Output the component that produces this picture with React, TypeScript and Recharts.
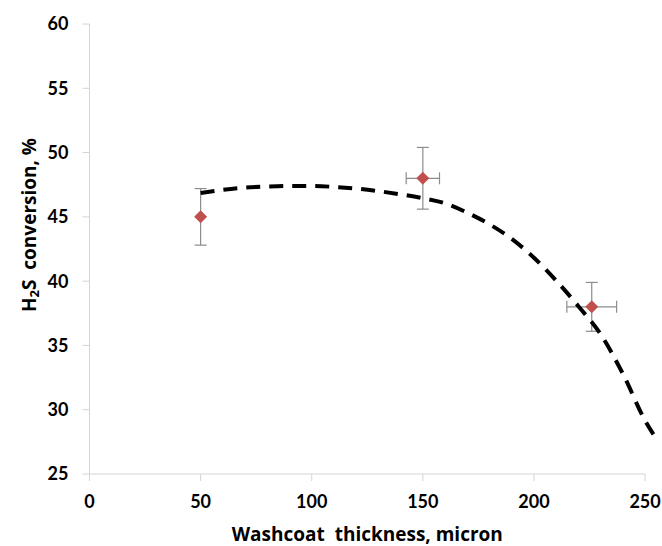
import React from 'react';
import {
  ComposedChart, Line, Scatter, ErrorBar, XAxis, YAxis, ReferenceLine,
} from 'recharts';

// ── Data ─────────────────────────────────────────────────────────────────────

const xTicks = [0, 50, 100, 150, 200, 250];
const yTicks = [25, 30, 35, 40, 45, 50, 55, 60];

// measured points with error bars
const pointX = [50, 150, 226];
const pointY = [45, 48, 38];
const pointErrX = [0, 7.5, 11.2];
const pointErrY = [2.2, 2.4, 1.9];

// fitted curve (dashed)
const curveX = [50, 60, 70, 80, 90, 100, 110, 120, 130, 140, 150, 160, 170, 180, 190, 200, 210, 220, 230, 240, 250, 254.5];
const curveY = [46.85, 47.1, 47.28, 47.36, 47.4, 47.4, 47.33, 47.2, 47.0, 46.75, 46.45, 46.05, 45.32, 44.42, 43.29, 41.82, 40.04, 38.05, 35.87, 32.8, 29.16, 27.88];

const points = pointX.map((x, i) => ({ x, y: pointY[i], ex: pointErrX[i], ey: pointErrY[i] }));
const curve = curveX.map((x, i) => ({ x, y: curveY[i] }));

// ── Styles ───────────────────────────────────────────────────────────────────

const FONT = 'Lato, "Open Sans", sans-serif';
const TITLE_FONT = '"Open Sans", Lato, sans-serif';
const AXIS = '#d4d4d4';
const RED = '#c0504d';
const tickStyle = { fill: '#000', fontSize: 18, fontWeight: 700, fontFamily: FONT };

const Diamond = ({ cx, cy }: any) => {
  const r = 6.5;
  return <polygon points={`${cx},${cy - r} ${cx + r},${cy} ${cx},${cy + r} ${cx - r},${cy}`} fill={RED} />;
};

const YTitle = ({ viewBox }: any) => {
  const cx = 29;
  const cy = viewBox.y + viewBox.height / 2 - 24;
  return (
    <text
      x={cx} y={cy} transform={`rotate(-90 ${cx} ${cy})`} textAnchor="middle" dominantBaseline="central"
      fontFamily={TITLE_FONT} fontSize={19} fontWeight={700} fill="#000" style={{ whiteSpace: 'pre' }}
    >
      <tspan>H</tspan>
      <tspan fontSize={13} dy={5}>2</tspan>
      <tspan dy={-5}>S  conversion, %</tspan>
    </text>
  );
};

const XTitle = ({ viewBox }: any) => {
  const x = viewBox.x + (250 / 256) * viewBox.width / 2;
  return (
    <text
      x={x} y={541} textAnchor="middle"
      fontFamily={TITLE_FONT} fontSize={19} fontWeight={700} fill="#000" style={{ whiteSpace: 'pre' }}
    >
      Washcoat  thickness, micron
    </text>
  );
};

export default function App() {
  return (
    <div style={{ position: 'absolute', left: 0, top: 0, background: '#fff' }}>
      <ComposedChart width={662} height={546} margin={{ top: 24, right: 3.6, bottom: 0, left: 19.5 }}>
        <XAxis
          type="number" dataKey="x" domain={[0, 256]} ticks={xTicks} allowDataOverflow
          axisLine={false} tickLine={{ stroke: AXIS }} tickSize={7} tickMargin={14}
          tick={tickStyle} height={72} label={<XTitle />}
        />
        <YAxis
          type="number" dataKey="y" domain={[25, 60]} ticks={yTicks} allowDataOverflow
          axisLine={{ stroke: AXIS }} tickLine={{ stroke: AXIS }} tickSize={7} tickMargin={14}
          tick={tickStyle} width={70} label={<YTitle />}
        />
        <ReferenceLine segment={[{ x: 0, y: 25 }, { x: 250, y: 25 }]} stroke={AXIS} strokeWidth={1} />
        <Scatter data={points} dataKey="y" shape={<Diamond />} isAnimationActive={false}>
          <ErrorBar dataKey="ey" direction="y" width={6} stroke="#8c8c8c" strokeWidth={1.2} isAnimationActive={false} />
          <ErrorBar dataKey="ex" direction="x" width={6} stroke="#8c8c8c" strokeWidth={1.2} isAnimationActive={false} />
        </Scatter>
        <Line
          data={curve} dataKey="y" type="monotone" stroke="#000" strokeWidth={4}
          strokeDasharray="14 9" dot={false} activeDot={false} isAnimationActive={false}
        />
      </ComposedChart>
    </div>
  );
}
